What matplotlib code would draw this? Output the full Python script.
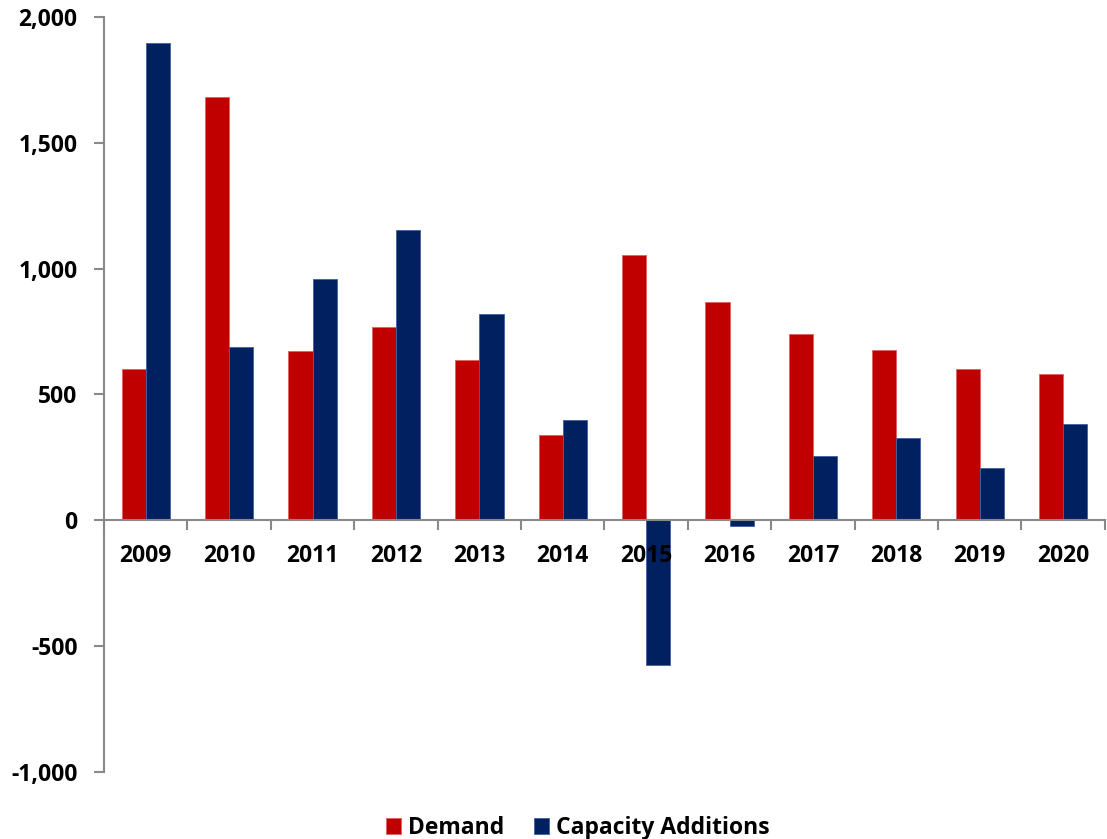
import numpy as np
import matplotlib
matplotlib.use("Agg")
import matplotlib.pyplot as plt
from matplotlib.ticker import FuncFormatter

plt.rcParams['font.family'] = ['Open Sans', 'DejaVu Sans']
plt.rcParams['font.weight'] = 'bold'

years = ['2009', '2010', '2011', '2012', '2013', '2014',
         '2015', '2016', '2017', '2018', '2019', '2020']
demand = [600, 1682, 672, 767, 636, 338, 1054, 867, 740, 676, 600, 580]
capacity = [1895, 688, 958, 1153, 819, 398, -573, -24, 254, 326, 207, 382]

red = '#C00000'
navy = '#002060'

fig = plt.figure(figsize=(11.07, 8.39), dpi=100)
ax = fig.add_axes([0.094, 0.0799, 0.904, 0.8998])

x = np.arange(len(years))
w = 0.29
ax.bar(x - w/2, demand, w, color=red, edgecolor='#e06060', linewidth=0.6, label='Demand')
ax.bar(x + w/2, capacity, w, color=navy, edgecolor='#4060a0', linewidth=0.6, label='Capacity Additions')

ax.set_xlim(-0.5, len(years) - 0.5)
ax.set_ylim(-1000, 2000)
ax.set_yticks([-1000, -500, 0, 500, 1000, 1500, 2000])
ax.yaxis.set_major_formatter(FuncFormatter(lambda v, p: '{:,.0f}'.format(v)))

for s in ['top', 'right']:
    ax.spines[s].set_visible(False)
ax.spines['bottom'].set_position(('data', 0))
for s in ['left', 'bottom']:
    ax.spines[s].set_color('#898989')
    ax.spines[s].set_linewidth(1.5)

ax.set_xticks(x)
ax.set_xticklabels(years)
ax.set_xticks(np.arange(-0.5, len(years)), minor=True)
ax.tick_params(axis='x', which='major', length=0, pad=17, labelsize=16.5)
ax.tick_params(axis='x', which='minor', direction='out', length=7, width=1.5, color='#898989')
ax.tick_params(axis='y', direction='out', length=7, width=1.5, color='#898989', labelsize=16.5, pad=12)
for t in ax.get_xticklabels() + ax.get_yticklabels():
    t.set_fontweight('bold')

fig.legend(loc='lower center', bbox_to_anchor=(0.522, -0.026), ncol=2, frameon=False,
           prop={'weight': 'bold', 'size': 16.5}, handlelength=0.65, handleheight=0.65,
           handletextpad=0.3, columnspacing=1.3)

plt.savefig('out.png', dpi=100)
